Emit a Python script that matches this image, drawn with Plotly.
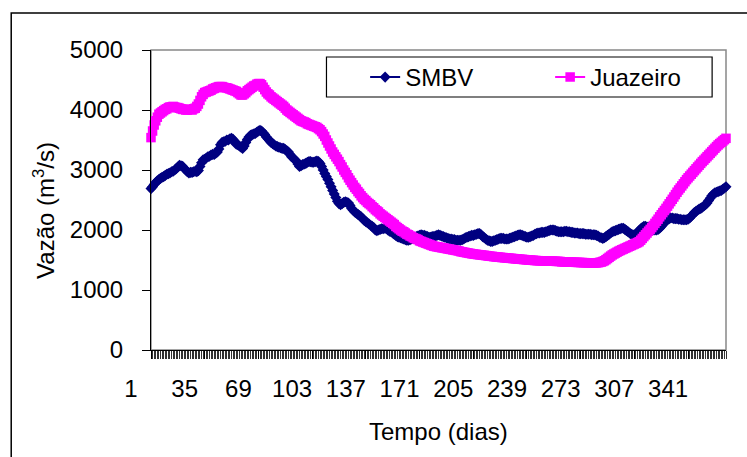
import plotly.graph_objects as go

days = list(range(1, 366))

smbv = [
    2690, 2720, 2760, 2790, 2820, 2840, 2860, 2880, 2890, 2910,
    2930, 2940, 2950, 2970, 2980, 3000, 3020, 3050, 3080, 3070,
    3060, 3030, 3000, 2970, 2950, 2960, 2960, 2970, 2980, 2970,
    2990, 3060, 3120, 3170, 3180, 3200, 3220, 3230, 3250, 3260,
    3260, 3280, 3300, 3350, 3420, 3460, 3470, 3480, 3500, 3500,
    3520, 3530, 3510, 3470, 3430, 3420, 3400, 3380, 3360, 3400,
    3460, 3510, 3550, 3580, 3590, 3600, 3610, 3630, 3650, 3660,
    3650, 3620, 3590, 3550, 3520, 3490, 3460, 3440, 3420, 3400,
    3390, 3380, 3370, 3360, 3360, 3340, 3320, 3300, 3260, 3220,
    3200, 3170, 3150, 3100, 3060, 3070, 3090, 3100, 3110, 3130,
    3140, 3140, 3130, 3130, 3140, 3150, 3140, 3110, 3060, 3000,
    2940, 2890, 2840, 2780, 2720, 2660, 2600, 2540, 2480, 2440,
    2420, 2440, 2460, 2470, 2460, 2450, 2410, 2360, 2330, 2300,
    2280, 2260, 2240, 2220, 2190, 2160, 2140, 2120, 2100, 2080,
    2060, 2040, 2000, 1990, 2000, 2010, 2020, 2020, 2030, 2020,
    2000, 1980, 1970, 1950, 1930, 1910, 1890, 1880, 1870, 1860,
    1850, 1840, 1830, 1830, 1840, 1850, 1860, 1870, 1890, 1900,
    1910, 1920, 1910, 1910, 1900, 1890, 1880, 1880, 1890, 1890,
    1900, 1910, 1920, 1910, 1900, 1890, 1880, 1870, 1860, 1850,
    1850, 1840, 1840, 1830, 1830, 1830, 1830, 1840, 1850, 1870,
    1880, 1890, 1900, 1910, 1910, 1920, 1930, 1940, 1940, 1920,
    1890, 1870, 1850, 1830, 1820, 1810, 1810, 1820, 1830, 1840,
    1850, 1860, 1860, 1860, 1850, 1850, 1850, 1860, 1870, 1880,
    1890, 1900, 1910, 1920, 1920, 1910, 1900, 1890, 1880, 1880,
    1890, 1900, 1910, 1930, 1940, 1950, 1950, 1960, 1960, 1960,
    1970, 1980, 1990, 2000, 2000, 2000, 1990, 1980, 1970, 1970,
    1970, 1970, 1980, 1980, 1970, 1970, 1960, 1960, 1950, 1950,
    1950, 1940, 1940, 1940, 1940, 1930, 1930, 1930, 1930, 1920,
    1920, 1920, 1910, 1900, 1880, 1870, 1860, 1870, 1890, 1910,
    1930, 1950, 1970, 1980, 1990, 2000, 2010, 2020, 2030, 2030,
    2010, 1990, 1970, 1950, 1930, 1920, 1920, 1930, 1960, 1990,
    2020, 2040, 2060, 2060, 2050, 2040, 2030, 2020, 2010, 2000,
    2000, 2010, 2030, 2060, 2090, 2120, 2150, 2170, 2190, 2200,
    2200, 2190, 2190, 2190, 2180, 2180, 2170, 2170, 2170, 2170,
    2180, 2200, 2230, 2260, 2290, 2310, 2330, 2350, 2360, 2380,
    2400, 2420, 2450, 2490, 2530, 2570, 2600, 2620, 2630, 2640,
    2650, 2660, 2680, 2700, 2720,
]

juazeiro = [
    3540, 3650, 3750, 3820, 3880, 3930, 3950, 3970, 3990, 4010,
    4020, 4040, 4050, 4050, 4060, 4050, 4040, 4040, 4030, 4020,
    4010, 4010, 4000, 4000, 4010, 4010, 4000, 4020, 4030, 4060,
    4100, 4160, 4220, 4260, 4290, 4300, 4310, 4320, 4330, 4350,
    4360, 4370, 4380, 4390, 4390, 4390, 4380, 4370, 4370, 4360,
    4350, 4340, 4330, 4320, 4310, 4290, 4270, 4250, 4250, 4270,
    4290, 4320, 4340, 4360, 4380, 4400, 4410, 4430, 4440, 4440,
    4420, 4380, 4340, 4300, 4270, 4250, 4220, 4200, 4180, 4160,
    4140, 4120, 4100, 4080, 4060, 4030, 4000, 3980, 3960, 3940,
    3920, 3900, 3880, 3860, 3840, 3820, 3810, 3800, 3790, 3770,
    3760, 3750, 3740, 3730, 3720, 3710, 3690, 3670, 3640, 3600,
    3560, 3500, 3450, 3400, 3350, 3300, 3260, 3220, 3180, 3140,
    3090, 3050, 3000, 2960, 2920, 2870, 2830, 2790, 2750, 2710,
    2680, 2640, 2610, 2570, 2540, 2510, 2490, 2460, 2440, 2420,
    2390, 2370, 2340, 2320, 2300, 2270, 2250, 2230, 2210, 2190,
    2170, 2150, 2130, 2110, 2090, 2060, 2040, 2020, 2000, 1980,
    1970, 1950, 1930, 1920, 1900, 1890, 1870, 1860, 1850, 1840,
    1820, 1810, 1800, 1790, 1780, 1770, 1760, 1750, 1740, 1730,
    1725, 1720, 1715, 1710, 1705, 1700, 1695, 1690, 1685, 1680,
    1675, 1670, 1665, 1660, 1655, 1650, 1640, 1635, 1630, 1625,
    1620, 1615, 1610, 1605, 1600, 1597, 1594, 1590, 1587, 1584,
    1580, 1577, 1574, 1570, 1565, 1562, 1560, 1556, 1553, 1550,
    1548, 1545, 1542, 1540, 1537, 1535, 1532, 1530, 1527, 1525,
    1522, 1520, 1517, 1514, 1512, 1510, 1508, 1505, 1503, 1500,
    1498, 1496, 1494, 1492, 1490, 1489, 1488, 1487, 1486, 1485,
    1484, 1483, 1482, 1481, 1480, 1479, 1478, 1477, 1476, 1475,
    1470, 1469, 1468, 1467, 1466, 1465, 1464, 1463, 1462, 1461,
    1460, 1459, 1458, 1457, 1456, 1455, 1454, 1453, 1452, 1451,
    1450, 1450, 1452, 1455, 1460, 1466, 1475, 1488, 1505, 1525,
    1545, 1565, 1585, 1600, 1615, 1630, 1645, 1658, 1670, 1682,
    1694, 1706, 1718, 1730, 1742, 1754, 1766, 1778, 1790, 1805,
    1830, 1860, 1890, 1920, 1950, 1980, 2010, 2040, 2075, 2110,
    2145, 2180, 2220, 2255, 2290, 2325, 2360, 2398, 2436, 2474,
    2512, 2550, 2590, 2630, 2667, 2700, 2735, 2770, 2805, 2840,
    2870, 2900, 2930, 2960, 2990, 3020, 3050, 3080, 3110, 3140,
    3165, 3194, 3222, 3250, 3278, 3306, 3334, 3362, 3390, 3417,
    3440, 3462, 3484, 3506, 3528,
]

x_tick_vals = [1, 35, 69, 103, 137, 171, 205, 239, 273, 307, 341]
x_tick_text = [str(v) for v in x_tick_vals]
y_tick_vals = [0, 1000, 2000, 3000, 4000, 5000]

FONT = "Liberation Sans, Arial, sans-serif"

fig = go.Figure()
fig.add_trace(go.Scatter(
    x=days, y=smbv, name="SMBV", mode="lines+markers",
    line=dict(color="#000080", width=2),
    marker=dict(symbol="diamond", size=8.5, color="#000080"),
    cliponaxis=False,
))
fig.add_trace(go.Scatter(
    x=days, y=juazeiro, name="Juazeiro", mode="lines+markers",
    line=dict(color="#FF00FF", width=2),
    marker=dict(symbol="square", size=9.5, color="#FF00FF"),
    cliponaxis=False,
))

L, R, T, B = 151, 16, 50, 107
W, H = 747, 457
pw, ph = W - L - R, H - T - B

def px(xp):
    return (xp - L) / pw

def py(yp):
    return (H - B - yp) / ph

fig.update_layout(
    width=W, height=H,
    margin=dict(l=L, r=R, t=T, b=B, pad=0),
    paper_bgcolor="white", plot_bgcolor="white",
    font=dict(family=FONT, size=24, color="black"),
    showlegend=True,
    legend=dict(
        x=px(367), y=py(55), xanchor="left", yanchor="top",
        orientation="h", borderwidth=0,
        bgcolor="rgba(0,0,0,0)", font=dict(size=24),
        entrywidth=140, entrywidthmode="pixels",
    ),
    xaxis=dict(
        range=[1, 365], tickmode="array", tickvals=x_tick_vals,
        ticktext=x_tick_text, ticks="outside", ticklen=8, tickwidth=1,
        tickcolor="black", showline=True, linecolor="black", linewidth=1,
        showgrid=False, zeroline=False, ticklabelshift=-20,
        ticklabelstandoff=9,
        minor=dict(dtick=1, tick0=1, ticks="outside", ticklen=8,
                   tickwidth=1, tickcolor="#333333", showgrid=False),
    ),
    yaxis=dict(
        range=[0, 5000], tickmode="array", tickvals=y_tick_vals,
        ticks="outside", ticklen=8, tickwidth=1, tickcolor="black",
        showline=True, linecolor="black", linewidth=1,
        showgrid=False, zeroline=False, ticklabelstandoff=14,
    ),
    shapes=[
        dict(type="rect", xref="paper", yref="paper", x0=0, x1=1, y0=0, y1=1,
             line=dict(color="#888888", width=1.5), layer="below"),
        dict(type="rect", xref="paper", yref="paper",
             x0=px(10), x1=px(780), y0=py(500), y1=py(13),
             line=dict(color="black", width=1.5), layer="below"),
        dict(type="rect", xref="paper", yref="paper",
             x0=px(328), x1=px(717), y0=py(97), y1=py(57),
             fillcolor="white", line=dict(color="black", width=1.2),
             layer="above"),
    ],
    annotations=[
        dict(text="Tempo (dias)", xref="paper", yref="paper",
             x=px(441), y=py(431), xanchor="center", yanchor="middle",
             showarrow=False, font=dict(size=24)),
        dict(text="Vazão (m<sup>3</sup>/s)", xref="paper", yref="paper",
             x=px(43), y=py(210), xanchor="center", yanchor="middle",
             textangle=-90, showarrow=False, font=dict(size=24)),
    ],
)

fig.write_html("out.html")
